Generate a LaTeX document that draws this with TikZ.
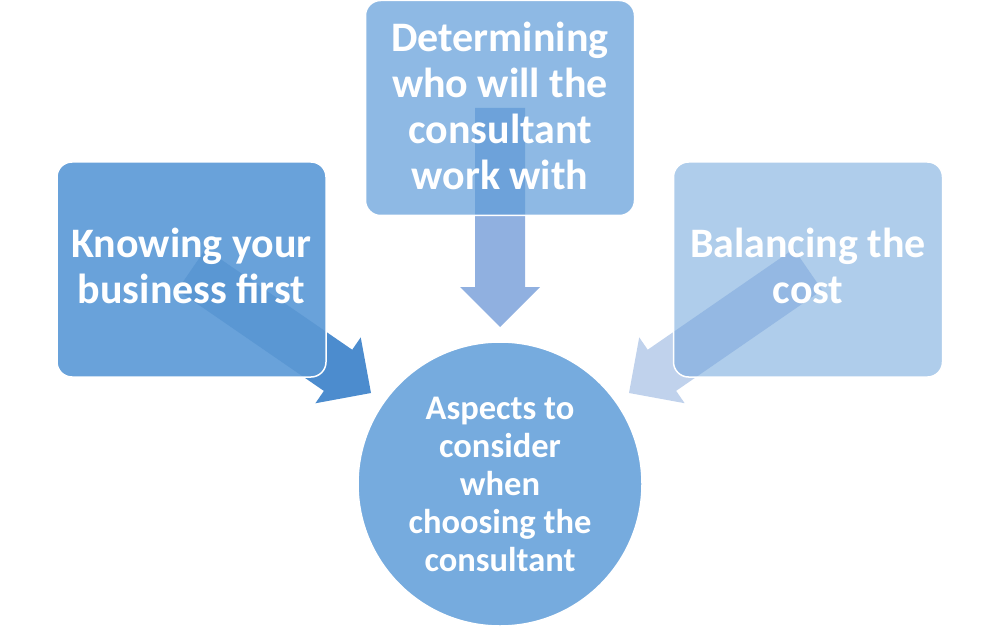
\documentclass[tikz,border=0pt]{standalone}
\usepackage{fontspec}
\setmainfont{Carlito}
\usetikzlibrary{calc}
\pgfdeclarelayer{back}
\pgfsetlayers{back,main}
\definecolor{lbox}{HTML}{69A2DA}
\definecolor{larr}{HTML}{4C8CCE}
\definecolor{lstr}{HTML}{5A97D3}
\definecolor{tbox}{HTML}{8EB9E4}
\definecolor{tarr}{HTML}{90B0E0}
\definecolor{tstr}{HTML}{6DA2DA}
\definecolor{rbox}{HTML}{AFCDEB}
\definecolor{rarr}{HTML}{C0D2EC}
\definecolor{rstr}{HTML}{94B8E3}
\definecolor{circ}{HTML}{76ABDE}
\tikzset{
  boxshape/.style={rectangle, rounded corners=15pt, minimum width=269pt, minimum height=215pt, inner sep=0pt, outer sep=0pt},
  boxtext/.style={text=white, font=\fontsize{42}{46}\selectfont\bfseries, align=center, inner sep=0pt},
  circtext/.style={text=white, font=\fontsize{34.5}{38}\selectfont\bfseries, align=center, inner sep=0pt},
  outline/.style={draw=white, line width=1.5pt, rounded corners=15pt},
}
% #1 start, #2 tip, #3 prefix
\newcommand\mkblockarrow[3]{%
  \coordinate (#3h) at ($(#2)!40pt!(#1)$);
  \coordinate (#3s1) at ($(#1)!25pt!90:(#2)$);
  \coordinate (#3s2) at ($(#1)!25pt!-90:(#2)$);
  \coordinate (#3h1) at ($(#3h)!25pt!90:(#2)$);
  \coordinate (#3h2) at ($(#3h)!25pt!-90:(#2)$);
  \coordinate (#3w1) at ($(#3h)!40pt!90:(#2)$);
  \coordinate (#3w2) at ($(#3h)!40pt!-90:(#2)$);
}
\begin{document}
\begin{tikzpicture}[x=1pt,y=-1pt]
\useasboundingbox (0,0) rectangle (1000,628);
% boxes
\node[boxshape, fill=lbox] (k) at (191.5,269.5) {};
\node[boxshape, fill=tbox] (d) at (500,108) {};
\node[boxshape, fill=rbox] (b) at (808,269.5) {};
\node[circle, minimum size=284pt, inner sep=0pt, fill=circ, draw=white, line width=1.5pt] (c) at (500,484) {};
% arrow tips
\coordinate (ktip) at (371,393);
\coordinate (dtip) at (500,327);
\coordinate (btip) at (629,393);
\mkblockarrow{k.center}{ktip}{ka}
\mkblockarrow{d.center}{dtip}{da}
\mkblockarrow{b.center}{btip}{ba}
\begin{pgfonlayer}{back}
  \fill[larr] (kas1) -- (kah1) -- (kaw1) -- (ktip) -- (kaw2) -- (kah2) -- (kas2) -- cycle;
  \fill[tarr] (das1) -- (dah1) -- (daw1) -- (dtip) -- (daw2) -- (dah2) -- (das2) -- cycle;
  \fill[rarr] (bas1) -- (bah1) -- (baw1) -- (btip) -- (baw2) -- (bah2) -- (bas2) -- cycle;
\end{pgfonlayer}
% stripes inside boxes
\begin{scope}
  \clip[rounded corners=15pt] (k.north west) rectangle (k.south east);
  \fill[lstr] (kas1) -- (kah1) -- (kaw1) -- (ktip) -- (kaw2) -- (kah2) -- (kas2) -- cycle;
\end{scope}
\begin{scope}
  \clip[rounded corners=15pt] (d.north west) rectangle (d.south east);
  \fill[tstr] (das1) -- (dah1) -- (daw1) -- (dtip) -- (daw2) -- (dah2) -- (das2) -- cycle;
\end{scope}
\begin{scope}
  \clip[rounded corners=15pt] (b.north west) rectangle (b.south east);
  \fill[rstr] (bas1) -- (bah1) -- (baw1) -- (btip) -- (baw2) -- (bah2) -- (bas2) -- cycle;
\end{scope}
% outlines
\draw[outline] (k.north west) rectangle (k.south east);
\draw[outline] (d.north west) rectangle (d.south east);
\draw[outline] (b.north west) rectangle (b.south east);
% texts
\node[boxtext] (kt) at ([yshift=4pt]k.center) {Knowing your\\business first};
\node[boxtext] (dt) at ([yshift=2pt]d.center) {Determining\\who will the\\consultant\\work with};
\node[boxtext] (bt) at ([yshift=4pt]b.center) {Balancing the\\cost};
\node[circtext] (ct) at (c.center) {Aspects to\\consider\\when\\choosing the\\consultant};
\end{tikzpicture}
\end{document}
